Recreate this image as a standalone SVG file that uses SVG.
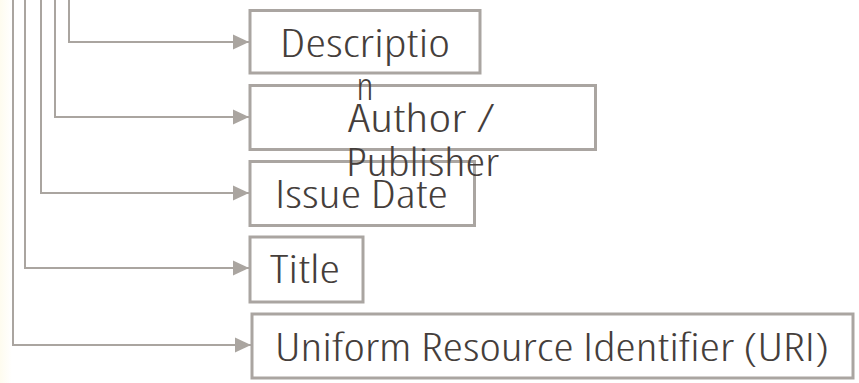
<svg xmlns="http://www.w3.org/2000/svg" width="859" height="383" viewBox="0 0 859 383">
<defs>
<linearGradient id="bg" x1="0" y1="0" x2="1" y2="0">
<stop offset="0" stop-color="#fefcef"/>
<stop offset="1" stop-color="#ffffff"/>
</linearGradient>
<marker id="arr" markerWidth="16" markerHeight="16" refX="16" refY="8" orient="auto" markerUnits="userSpaceOnUse">
<path d="M0,0.5 L16,8 L0,15.5 Z" fill="#aaa5a0"/>
</marker>
<style>
.box{fill:#ffffff;stroke:#aaa5a1;stroke-width:3}
.lbl{font-family:"Open Sans","Lato","Liberation Sans",sans-serif;font-size:39px;font-weight:340;font-stretch:condensed;fill:#453e3b;text-anchor:middle}
.con{fill:none;stroke:#aaa5a0;stroke-width:2}
</style>
</defs>
<rect x="0" y="0" width="859" height="383" fill="#ffffff"/>
<rect x="0" y="0" width="12" height="383" fill="url(#bg)"/>
<g id="connectors">
<path class="con" d="M69,0 V42 H249" marker-end="url(#arr)"/>
<path class="con" d="M55,0 V117 H249" marker-end="url(#arr)"/>
<path class="con" d="M41,0 V193 H249" marker-end="url(#arr)"/>
<path class="con" d="M25,0 V268 H249" marker-end="url(#arr)"/>
<path class="con" d="M13,0 V345 H251" marker-end="url(#arr)"/>
</g>
<g id="node-description">
<rect class="box" x="250" y="10.5" width="230" height="62.5"/>
</g>
<g id="node-author">
<rect class="box" x="250" y="85.5" width="345.5" height="64"/>
</g>
<g id="node-issue-date">
<rect class="box" x="250" y="161.5" width="224.5" height="64"/>
</g>
<g id="node-title">
<rect class="box" x="250" y="237" width="113" height="65"/>
</g>
<g id="node-uri">
<rect class="box" x="252" y="314" width="601" height="64"/>
</g>
<g id="labels">
<text class="lbl" x="365" y="57" textLength="170" lengthAdjust="spacingAndGlyphs">Descriptio</text>
<text class="lbl" x="365" y="100" textLength="17" lengthAdjust="spacingAndGlyphs">n</text>
<text class="lbl" x="421.5" y="132" textLength="147" lengthAdjust="spacingAndGlyphs">Author /</text>
<text class="lbl" x="422.5" y="176" textLength="153" lengthAdjust="spacingAndGlyphs">Publisher</text>
<text class="lbl" x="361.5" y="208" textLength="173" lengthAdjust="spacingAndGlyphs">Issue Date</text>
<text class="lbl" x="305" y="283" textLength="70" lengthAdjust="spacingAndGlyphs">Title</text>
<text class="lbl" x="552" y="361" textLength="554" lengthAdjust="spacingAndGlyphs">Uniform Resource Identifier (URI)</text>
</g>
</svg>
